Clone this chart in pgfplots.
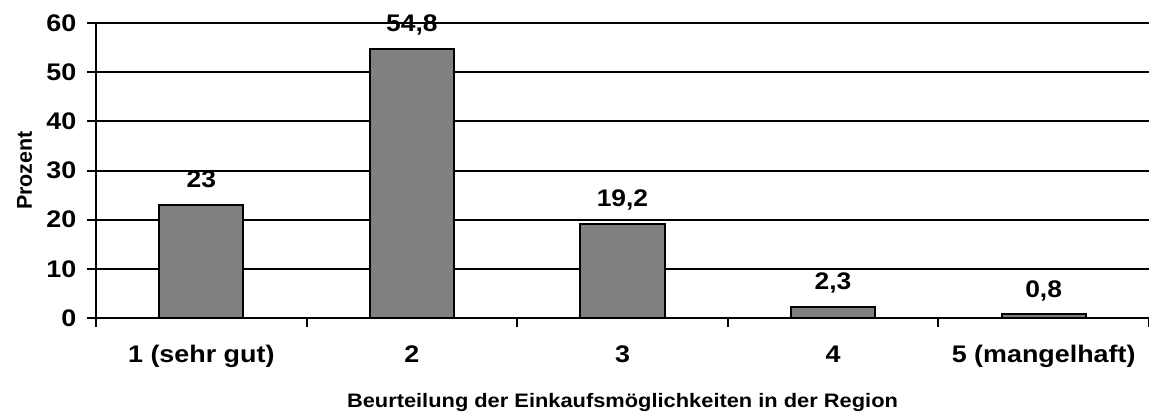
\documentclass[border=0pt]{standalone}
\usepackage{fontspec}
\setmainfont{Liberation Sans}
\usepackage{pgfplots}
\pgfplotsset{compat=1.18}
\definecolor{bargray}{RGB}{128,128,128}
\begin{document}
\begin{tikzpicture}
\path[use as bounding box] (-96bp,-96bp) rectangle (1053bp,318bp);
\begin{axis}[
  scale only axis, width=1053bp, height=295bp,
  at={(0,0)}, anchor=south west,
  xmin=-0.5, xmax=4.5, ymin=0, ymax=60,
  axis x line*=bottom, axis y line*=left,
  axis line style={-, black, line width=2bp},
  xtick={0,1,2,3,4},
  xticklabels={1 (sehr gut),2,3,4,5 (mangelhaft)},
  minor xtick={-0.5,0.5,1.5,2.5,3.5,4.5},
  ytick={0,10,20,30,40,50},
  extra y ticks={60},
  extra y tick style={grid style={black!30, line width=0.8bp}},
  tick align=outside,
  major tick length=9bp, minor tick length=9bp,
  major x tick style={draw=none},
  minor x tick style={black, line width=2bp},
  y tick style={black, line width=2bp},
  ymajorgrids,
  major grid style={black, line width=2bp},
  /pgf/number format/assume math mode=true,
  /pgf/number format/use comma,
  /pgf/number format/1000 sep={},
  tick label style={font=\fontsize{24bp}{28bp}\selectfont\bfseries, xscale=1.12},
  xticklabel style={yshift=-15bp},
  yticklabel style={xshift=-6bp},
  xlabel={Beurteilung der Einkaufsmöglichkeiten in der Region},
  xlabel style={font=\fontsize{19.5bp}{23bp}\selectfont\bfseries, xscale=1.12,
    at={(axis description cs:0.5,-0.305)}, anchor=base},
  ylabel={Prozent},
  ylabel style={font=\fontsize{21.5bp}{25bp}\selectfont\bfseries,
    at={(axis description cs:-0.0608,0.5)}, anchor=base},
]
\addplot[ybar, bar width=0.4, fill=bargray, draw=black, line width=2bp,
  nodes near coords,
  every node near coord/.append style={font=\fontsize{24bp}{28bp}\selectfont\bfseries,
    xscale=1.1, anchor=base, yshift=17bp}]
  coordinates {(0,23) (1,54.8) (2,19.2) (3,2.3) (4,0.8)};
\end{axis}
\end{tikzpicture}
\end{document}
